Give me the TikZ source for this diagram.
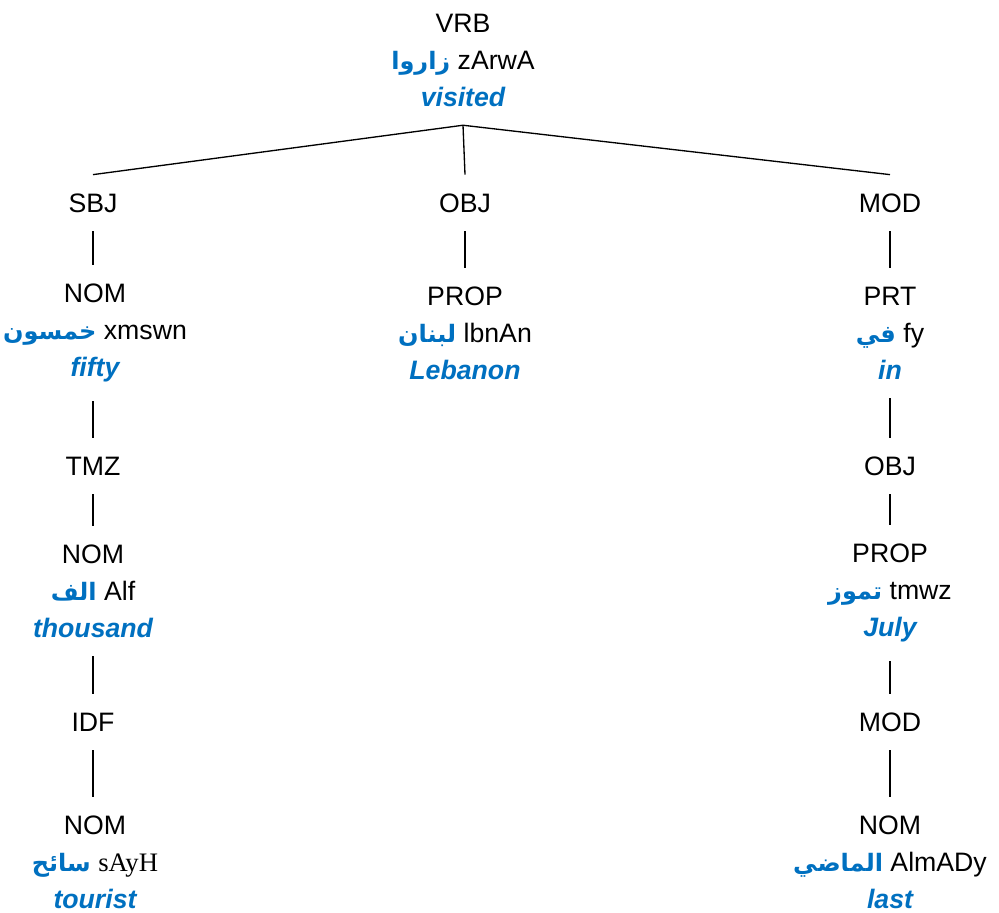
\documentclass[tikz,border=0pt]{standalone}
\usepackage{fontspec}
\setmainfont{Liberation Sans}
\newfontfamily\arabicfont[Script=Arabic,Scale=0.9]{DejaVu Sans}
\newfontfamily\translitserif{Liberation Serif}
\TeXXeTstate=1
\usetikzlibrary{positioning}
\definecolor{glossblue}{RGB}{0,112,192}
\newcommand{\arw}[1]{{\arabicfont\bfseries\color{glossblue}\beginR #1\endR}}
\newcommand{\gls}[1]{{\color{glossblue}\bfseries\itshape #1}}

\begin{document}
\begin{tikzpicture}[
  x=0.75pt, y=-0.75pt,
  every node/.style={font=\fontsize{20}{27.75}\selectfont},
  lex/.style={align=center, inner xsep=2pt, inner ysep=14pt},
  arc/.style={line width=1pt}
]
  \useasboundingbox (0,0) rectangle (999,913);

  % root
  \node[lex] (vrb) at (463,60) {VRB\\ \arw{زاروا} zArwA\\ \gls{visited}};

  % dependents of the verb
  \node[lex] (sbj) at (93,203) {SBJ};
  \node[lex] (obj) at (465,203) {OBJ};
  \node[lex] (mod) at (890,203) {MOD};

  % subject branch
  \node[lex] (xmswn) at (95,333) {NOM\\ \arw{خمسون} xmswn\\ \gls{fifty}};
  \node[lex] (tmz) at (93,466) {TMZ};
  \node[lex] (alf) at (93,591) {NOM\\ \arw{الف} Alf\\ \gls{thousand}};
  \node[lex] (idf) at (93,722) {IDF};
  \node[lex] (sayh) at (95,862) {NOM\\ \arw{سائح} {\translitserif sAyH}\\ \gls{tourist}};

  % object branch
  \node[lex] (lbnan) at (465,333) {PROP\\ \arw{لبنان} lbnAn\\ \gls{Lebanon}};

  % modifier branch
  \node[lex] (fy) at (890,333) {PRT\\ \arw{في} fy\\ \gls{in}};
  \node[lex] (obj2) at (890,466) {OBJ};
  \node[lex] (tmwz) at (890,593) {PROP\\ \arw{تموز} tmwz\\ \gls{July}};
  \node[lex] (mod2) at (890,722) {MOD};
  \node[lex] (almady) at (890,862) {NOM\\ \arw{الماضي} AlmADy\\ \gls{last}};

  \draw[arc] (vrb.south) -- (sbj.north);
  \draw[arc] (vrb.south) -- (obj.north);
  \draw[arc] (vrb.south) -- (mod.north);

  \draw[arc] (sbj.south) -- (sbj.south |- xmswn.north);
  \draw[arc] (tmz.north |- xmswn.south) -- (tmz.north);
  \draw[arc] (tmz.south) -- (alf.north);
  \draw[arc] (alf.south) -- (idf.north);
  \draw[arc] (idf.south) -- (idf.south |- sayh.north);

  \draw[arc] (obj.south) -- (lbnan.north);

  \draw[arc] (mod.south) -- (fy.north);
  \draw[arc] (fy.south) -- (obj2.north);
  \draw[arc] (obj2.south) -- (tmwz.north);
  \draw[arc] (tmwz.south) -- (mod2.north);
  \draw[arc] (mod2.south) -- (almady.north);
\end{tikzpicture}
\end{document}
